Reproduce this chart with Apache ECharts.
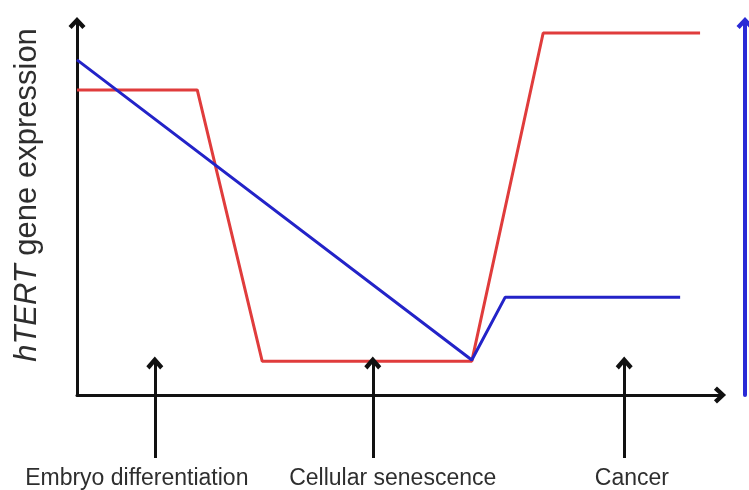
<!DOCTYPE html>
<html>
<head>
<meta charset="utf-8">
<script src="https://cdn.jsdelivr.net/npm/echarts@6/dist/echarts.min.js"></script>
<style>
  html, body { margin: 0; padding: 0; background: #fff; }
  #chart { width: 749px; height: 490px; }
</style>
</head>
<body>
<div id="chart"></div>
<script>
// 红线 / 蓝线的折点 (x: 0-100 时间轴, y: 0-100 表达量)
var redX = [0, 18.7, 28.8, 61.4, 72.5, 96.9]
var redY = [82, 82, 9.1, 9.1, 97.3, 97.3]
var blueX = [0, 61.4, 66.6, 93.8]
var blueY = [90.1, 9.4, 26.3, 26.3]

// 下方箭头和文字
var arrowX = [12.1, 46.0, 85.1]
var stageNames = ['Embryo differentiation', 'Cellular senescence', 'Cancer']
var stageLabelX = [9.3, 49.1, 86.3]

// 粗的开口箭头
var chevron = 'path://M0,7.5 L7,0 L14,7.5 L11.4,10 L7,5.2 L2.6,10 Z'
var font = 'Liberation Sans, Arial, sans-serif'

function pairs(xs, ys) {
  return xs.map(function(x, i) { return [x, ys[i]] })
}

var chart = echarts.init(document.getElementById('chart'))
chart.setOption({
  animation: false,
  backgroundColor: '#fff',
  grid: [
    { left: 77, right: 29, top: 23, bottom: 95 },
    { left: 77, right: 29, top: 363, bottom: 32 }
  ],
  xAxis: [
    {
      type: 'value', gridIndex: 0, min: 0, max: 100,
      axisLine: {
        lineStyle: { color: '#111', width: 3 },
        symbol: ['none', chevron],
        symbolSize: [17, 13]
      },
      axisTick: { show: false },
      axisLabel: { show: false },
      splitLine: { show: false }
    },
    {
      type: 'value', gridIndex: 1, min: 0, max: 100,
      axisLine: { show: false },
      axisTick: { show: false },
      splitLine: { show: false },
      axisLabel: {
        customValues: stageLabelX,
        margin: 9,
        fontFamily: font,
        fontSize: 23,
        color: '#2e2e2e',
        formatter: function(v) {
          var i = stageLabelX.indexOf(v)
          return i >= 0 ? stageNames[i] : ''
        }
      }
    }
  ],
  yAxis: [
    {
      type: 'value', gridIndex: 0, min: 0, max: 100,
      name: '{i|hTERT}{n| gene expression}',
      nameLocation: 'middle',
      nameGap: 34,
      nameRotate: 90,
      nameTextStyle: {
        padding: [0, 0, 0, 28],
        rich: {
          i: { fontStyle: 'italic', fontSize: 31, color: '#2e2e2e', fontFamily: font },
          n: { fontSize: 31, color: '#2e2e2e', fontFamily: font }
        }
      },
      axisLine: {
        lineStyle: { color: '#111', width: 3 },
        symbol: ['none', chevron],
        symbolSize: [17, 13]
      },
      axisTick: { show: false },
      axisLabel: { show: false },
      splitLine: { show: false }
    },
    {
      // 右侧蓝色箭头
      type: 'value', gridIndex: 0, min: 0, max: 100,
      position: 'right',
      offset: 25,
      axisLine: {
        show: true,
        lineStyle: { color: '#2a2ad6', width: 4 },
        symbol: ['none', chevron],
        symbolSize: [17, 13]
      },
      axisTick: { show: false },
      axisLabel: { show: false },
      splitLine: { show: false }
    },
    {
      type: 'value', gridIndex: 1, min: 0, max: 1, show: false
    }
  ],
  series: [
    {
      name: 'red',
      type: 'line',
      xAxisIndex: 0, yAxisIndex: 0,
      data: pairs(redX, redY),
      showSymbol: false,
      lineStyle: { color: '#e03c3c', width: 3 },
      z: 3
    },
    {
      name: 'blue',
      type: 'line',
      xAxisIndex: 0, yAxisIndex: 0,
      data: pairs(blueX, blueY),
      showSymbol: false,
      lineStyle: { color: '#2323c8', width: 3 },
      z: 4
    },
    {
      name: 'arrows',
      type: 'line',
      xAxisIndex: 1, yAxisIndex: 2,
      data: [],
      markLine: {
        silent: true,
        symbol: ['none', chevron],
        symbolSize: [17, 13],
        label: { show: false },
        lineStyle: { color: '#111', width: 3, type: 'solid' },
        data: arrowX.map(function(x) {
          return [{ coord: [x, 0] }, { coord: [x, 1] }]
        })
      }
    }
  ]
})
</script>
</body>
</html>
